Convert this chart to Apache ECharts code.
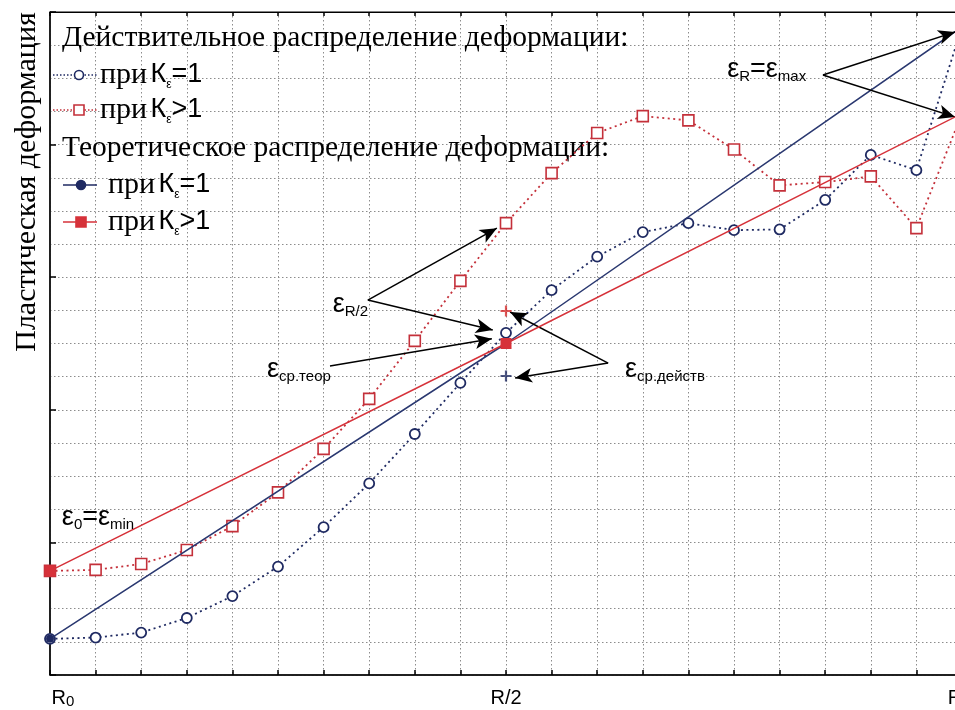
<!DOCTYPE html>
<html>
<head>
<meta charset="utf-8">
<script src="https://cdn.jsdelivr.net/npm/echarts@6/dist/echarts.min.js"></script>
<style>
  html, body { margin: 0; padding: 0; background: #fff; }
  #chart { width: 955px; height: 710px; }
</style>
</head>
<body>
<div id="chart"></div>
<script>
// Radial position steps from R0 (0) through R/2 (10) to R (20)
const steps = [0, 1, 2, 3, 4, 5, 6, 7, 8, 9, 10, 11, 12, 13, 14, 15, 16, 17, 18, 19, 20];

// Actual plastic strain distribution (relative units)
const actualK1 = [1.09, 1.13, 1.28, 1.72, 2.38, 3.27, 4.46, 5.78, 7.27, 8.81, 10.32,
                  11.61, 12.62, 13.36, 13.63, 13.42, 13.44, 14.33, 15.69, 15.23, 19.55];
const actualKgt1 = [3.14, 3.17, 3.35, 3.77, 4.49, 5.51, 6.82, 8.33, 10.08, 11.89, 13.63,
                    15.14, 16.35, 16.86, 16.73, 15.85, 14.77, 14.87, 15.04, 13.48, 16.94];

// Theoretical (linear) distribution: values at R0, R/2, R
const theoryPos = [0, 10, 20];
const theoryK1 = [1.09, 10.0, 19.55];
const theoryKgt1 = [3.14, 10.0, 16.94];

// Mean of the actual distributions, plotted at R/2
const meanPos = 10;
const meanActualK1 = 9.02;
const meanActualKgt1 = 10.98;

// X tick labels
const xTickLabels = { 0: 'R0', 10: 'R/2', 20: 'R' };

// Annotation arrows: [from, to] in data units
const arrowsEmax = [[[16.95, 18.1], [19.85, 19.4]], [[16.95, 18.1], [19.85, 16.83]]];
const arrowsRhalf = [[[6.97, 11.31], [9.8, 13.48]], [[6.97, 11.31], [9.71, 10.41]]];
const arrowsMeanTheory = [[[6.14, 9.32], [9.69, 10.14]]];
const arrowsMeanActual = [[[12.24, 9.41], [10.09, 10.95]], [[12.24, 9.41], [10.2, 8.96]]];

const NAVY = '#1f2a62';
const RED = '#c4303a';
const LINE_BLUE = '#2a3870';
const LINE_RED = '#d6323a';
const GRID = '#8c8c8c';
const SERIF = '"Liberation Serif", "Times New Roman", serif';
const SANS = '"Liberation Sans", Arial, sans-serif';

const pairs = (xs, ys) => xs.map((x, i) => [x, ys[i]]);
const plus = 'path://M4,0H6V4H10V6H6V10H4V6H0V4H4Z';

const chart = echarts.init(document.getElementById('chart'), null, { renderer: 'canvas' });

const dottedGrid = { color: GRID, width: 1, type: [1.5, 2.5] };

const allArrows = [].concat(arrowsEmax, arrowsRhalf, arrowsMeanTheory, arrowsMeanActual);

const option = {
  animation: false,
  backgroundColor: '#fff',
  grid: {
    left: 50, right: -7, top: 12, bottom: 35,
    outerBoundsMode: 'none', containLabel: false,
    show: true, borderColor: '#000', borderWidth: 1
  },
  xAxis: [
    {
      type: 'value', min: 0, max: 20, interval: 1, position: 'bottom',
      axisLine: { show: true, onZero: false, lineStyle: { color: '#000', width: 1.5 } },
      axisTick: { show: true, inside: true, length: 5, lineStyle: { color: '#000', width: 1.5 } },
      axisLabel: {
        margin: 12,
        showMinLabel: true, showMaxLabel: true, hideOverlap: false,
        formatter: v => {
          const t = xTickLabels[v];
          if (!t) return '';
          if (v === 0) return '{r0|R}{sub|0}';
          if (v === 20) return '{rr|R}';
          return '{r|' + t + '}';
        },
        rich: {
          r0: { fontFamily: SANS, fontSize: 20, color: '#000', padding: [0, 0, 0, 26], lineHeight: 22 },
          sub: { fontFamily: SANS, fontSize: 15, color: '#000', verticalAlign: 'bottom', lineHeight: 15 },
          r: { fontFamily: SANS, fontSize: 20, color: '#000', lineHeight: 22 },
          rr: { fontFamily: SANS, fontSize: 20, color: '#000', padding: [0, 14, 0, 0], lineHeight: 22 }
        }
      },
      splitLine: { show: true, lineStyle: dottedGrid }
    },
    {
      type: 'value', min: 0, max: 20, interval: 1, position: 'top',
      axisLine: { show: true, onZero: false, lineStyle: { color: '#000', width: 1 } },
      axisTick: { show: true, inside: true, length: 4, lineStyle: { color: '#000', width: 1.5 } },
      axisLabel: { show: false },
      splitLine: { show: false }
    }
  ],
  yAxis: {
    type: 'value', min: 0, max: 20, interval: 4,
    axisLine: { show: true, onZero: false, lineStyle: { color: '#000', width: 1.5 } },
    axisTick: { show: true, inside: true, length: 6, lineStyle: { color: '#000', width: 1.5 } },
    axisLabel: { show: false },
    splitLine: { show: true, lineStyle: dottedGrid },
    minorTick: { show: false, splitNumber: 4 },
    minorSplitLine: { show: true, lineStyle: dottedGrid }
  },
  series: [
    {
      name: 'actualK1', type: 'line', xAxisIndex: 0, data: pairs(steps, actualK1),
      symbol: 'circle', symbolSize: 10, showAllSymbol: true,
      lineStyle: { color: NAVY, width: 1.8, type: [2, 3.5] },
      itemStyle: { color: '#fff', borderColor: NAVY, borderWidth: 1.8 },
      z: 3
    },
    {
      name: 'actualKgt1', type: 'line', xAxisIndex: 0, data: pairs(steps, actualKgt1),
      symbol: 'rect', symbolSize: 11, showAllSymbol: true,
      lineStyle: { color: RED, width: 1.8, type: [2, 3.5] },
      itemStyle: { color: '#fff', borderColor: RED, borderWidth: 1.6 },
      z: 3
    },
    {
      name: 'theoryK1', type: 'line', xAxisIndex: 0, data: pairs(theoryPos, theoryK1),
      symbol: 'circle', symbolSize: 8,
      lineStyle: { color: LINE_BLUE, width: 1.5 },
      itemStyle: { color: NAVY },
      z: 4
    },
    {
      name: 'theoryKgt1', type: 'line', xAxisIndex: 0, data: pairs(theoryPos, theoryKgt1),
      symbol: 'rect', symbolSize: 11,
      lineStyle: { color: LINE_RED, width: 1.5 },
      itemStyle: { color: LINE_RED },
      z: 5,
      markLine: {
        silent: true,
        symbol: ['none', 'arrow'],
        symbolSize: 15,
        label: { show: false },
        lineStyle: { color: '#000', width: 1.5, type: 'solid' },
        itemStyle: { color: '#000' },
        emphasis: { disabled: true },
        data: allArrows.map(a => [{ coord: a[0] }, { coord: a[1], symbolSize: [11, 17] }])
      }
    },
    {
      name: 'meanKgt1', type: 'scatter', xAxisIndex: 0,
      data: [[meanPos, meanActualKgt1]],
      symbol: plus, symbolSize: 11, itemStyle: { color: '#d42a2a' }, z: 6
    },
    {
      name: 'meanK1', type: 'scatter', xAxisIndex: 0,
      data: [[meanPos, meanActualK1]],
      symbol: plus, symbolSize: 11, itemStyle: { color: NAVY }, z: 6
    }
  ]
};

chart.setOption(option);

// ---- Text annotations, legend and axis title ----
const px = (x, y) => chart.convertToPixel({ gridIndex: 0 }, [x, y]);

const epsRich = {
  e: { fontFamily: SANS, fontSize: 27, fill: '#000', lineHeight: 28 },
  s: { fontFamily: SANS, fontSize: 15, fill: '#000', verticalAlign: 'bottom', lineHeight: 15 }
};

function note(x, y, text) {
  const p = px(x, y);
  return {
    type: 'text', x: p[0], y: p[1], z: 50,
    style: { text: text, rich: epsRich, verticalAlign: 'middle', align: 'left' }
  };
}

const legendRich = {
  p: { fontFamily: SERIF, fontSize: 30, fill: '#000', lineHeight: 32 },
  k: { fontFamily: SANS, fontSize: 27, fill: '#000', lineHeight: 32 },
  e: { fontFamily: SANS, fontSize: 12, fill: '#000', verticalAlign: 'bottom', lineHeight: 12 }
};

function legendRow(y, lineX0, lineX1, symX, textX, color, dashed, symbolType, filled, label) {
  const sym = symbolType === 'circle'
    ? { type: 'circle', shape: { cx: symX, cy: y, r: 4.5 },
        style: { fill: filled ? color : '#fff', stroke: color, lineWidth: 1.6 } }
    : { type: 'rect', shape: { x: symX - 5, y: y - 5, width: 10, height: 10 },
        style: { fill: filled ? color : '#fff', stroke: color, lineWidth: 1.6 } };
  return [
    { type: 'line', shape: { x1: lineX0, y1: y, x2: lineX1, y2: y },
      style: { stroke: color, lineWidth: 1.5, lineDash: dashed ? [1.5, 2] : null } },
    sym,
    { type: 'text', x: textX, y: y, style: { text: label, rich: legendRich, verticalAlign: 'middle' } }
  ];
}

chart.setOption({
  graphic: [
    {
      type: 'text', x: 27, y: 182, rotation: Math.PI / 2,
      style: { text: 'Пластическая деформация', font: '30px ' + SERIF, fill: '#000',
               align: 'center', verticalAlign: 'middle' }
    },
    {
      type: 'group', z: 60,
      children: [].concat(
        [{ type: 'text', x: 62, y: 38, style: { text: 'Действительное распределение деформации:', verticalAlign: 'middle', font: '29.5px ' + SERIF, fill: '#000' } }],
        legendRow(75, 53, 97, 79, 100, NAVY, true, 'circle', false, '{p|при} {k|К}{e|ε}{k|=1}'),
        legendRow(110, 53, 97, 79, 100, RED, true, 'rect', false, '{p|при} {k|К}{e|ε}{k|>1}'),
        [{ type: 'text', x: 62, y: 148, style: { text: 'Теоретическое распределение деформации:', verticalAlign: 'middle', font: '29.5px ' + SERIF, fill: '#000' } }],
        legendRow(185, 63, 97, 81, 108, NAVY, false, 'circle', true, '{p|при} {k|К}{e|ε}{k|=1}'),
        legendRow(222, 63, 97, 81, 108, LINE_RED, false, 'rect', true, '{p|при} {k|К}{e|ε}{k|>1}')
      )
    },
    note(14.85, 18.25, '{e|ε}{s|R}{e|=ε}{s|max}'),
    note(6.2, 11.16, '{e|ε}{s|R/2}'),
    note(4.76, 9.2, '{e|ε}{s|ср.теор}'),
    note(12.61, 9.2, '{e|ε}{s|ср.действ}'),
    note(0.26, 4.74, '{e|ε}{s|0}{e|=ε}{s|min}')
  ]
});
</script>
</body>
</html>
